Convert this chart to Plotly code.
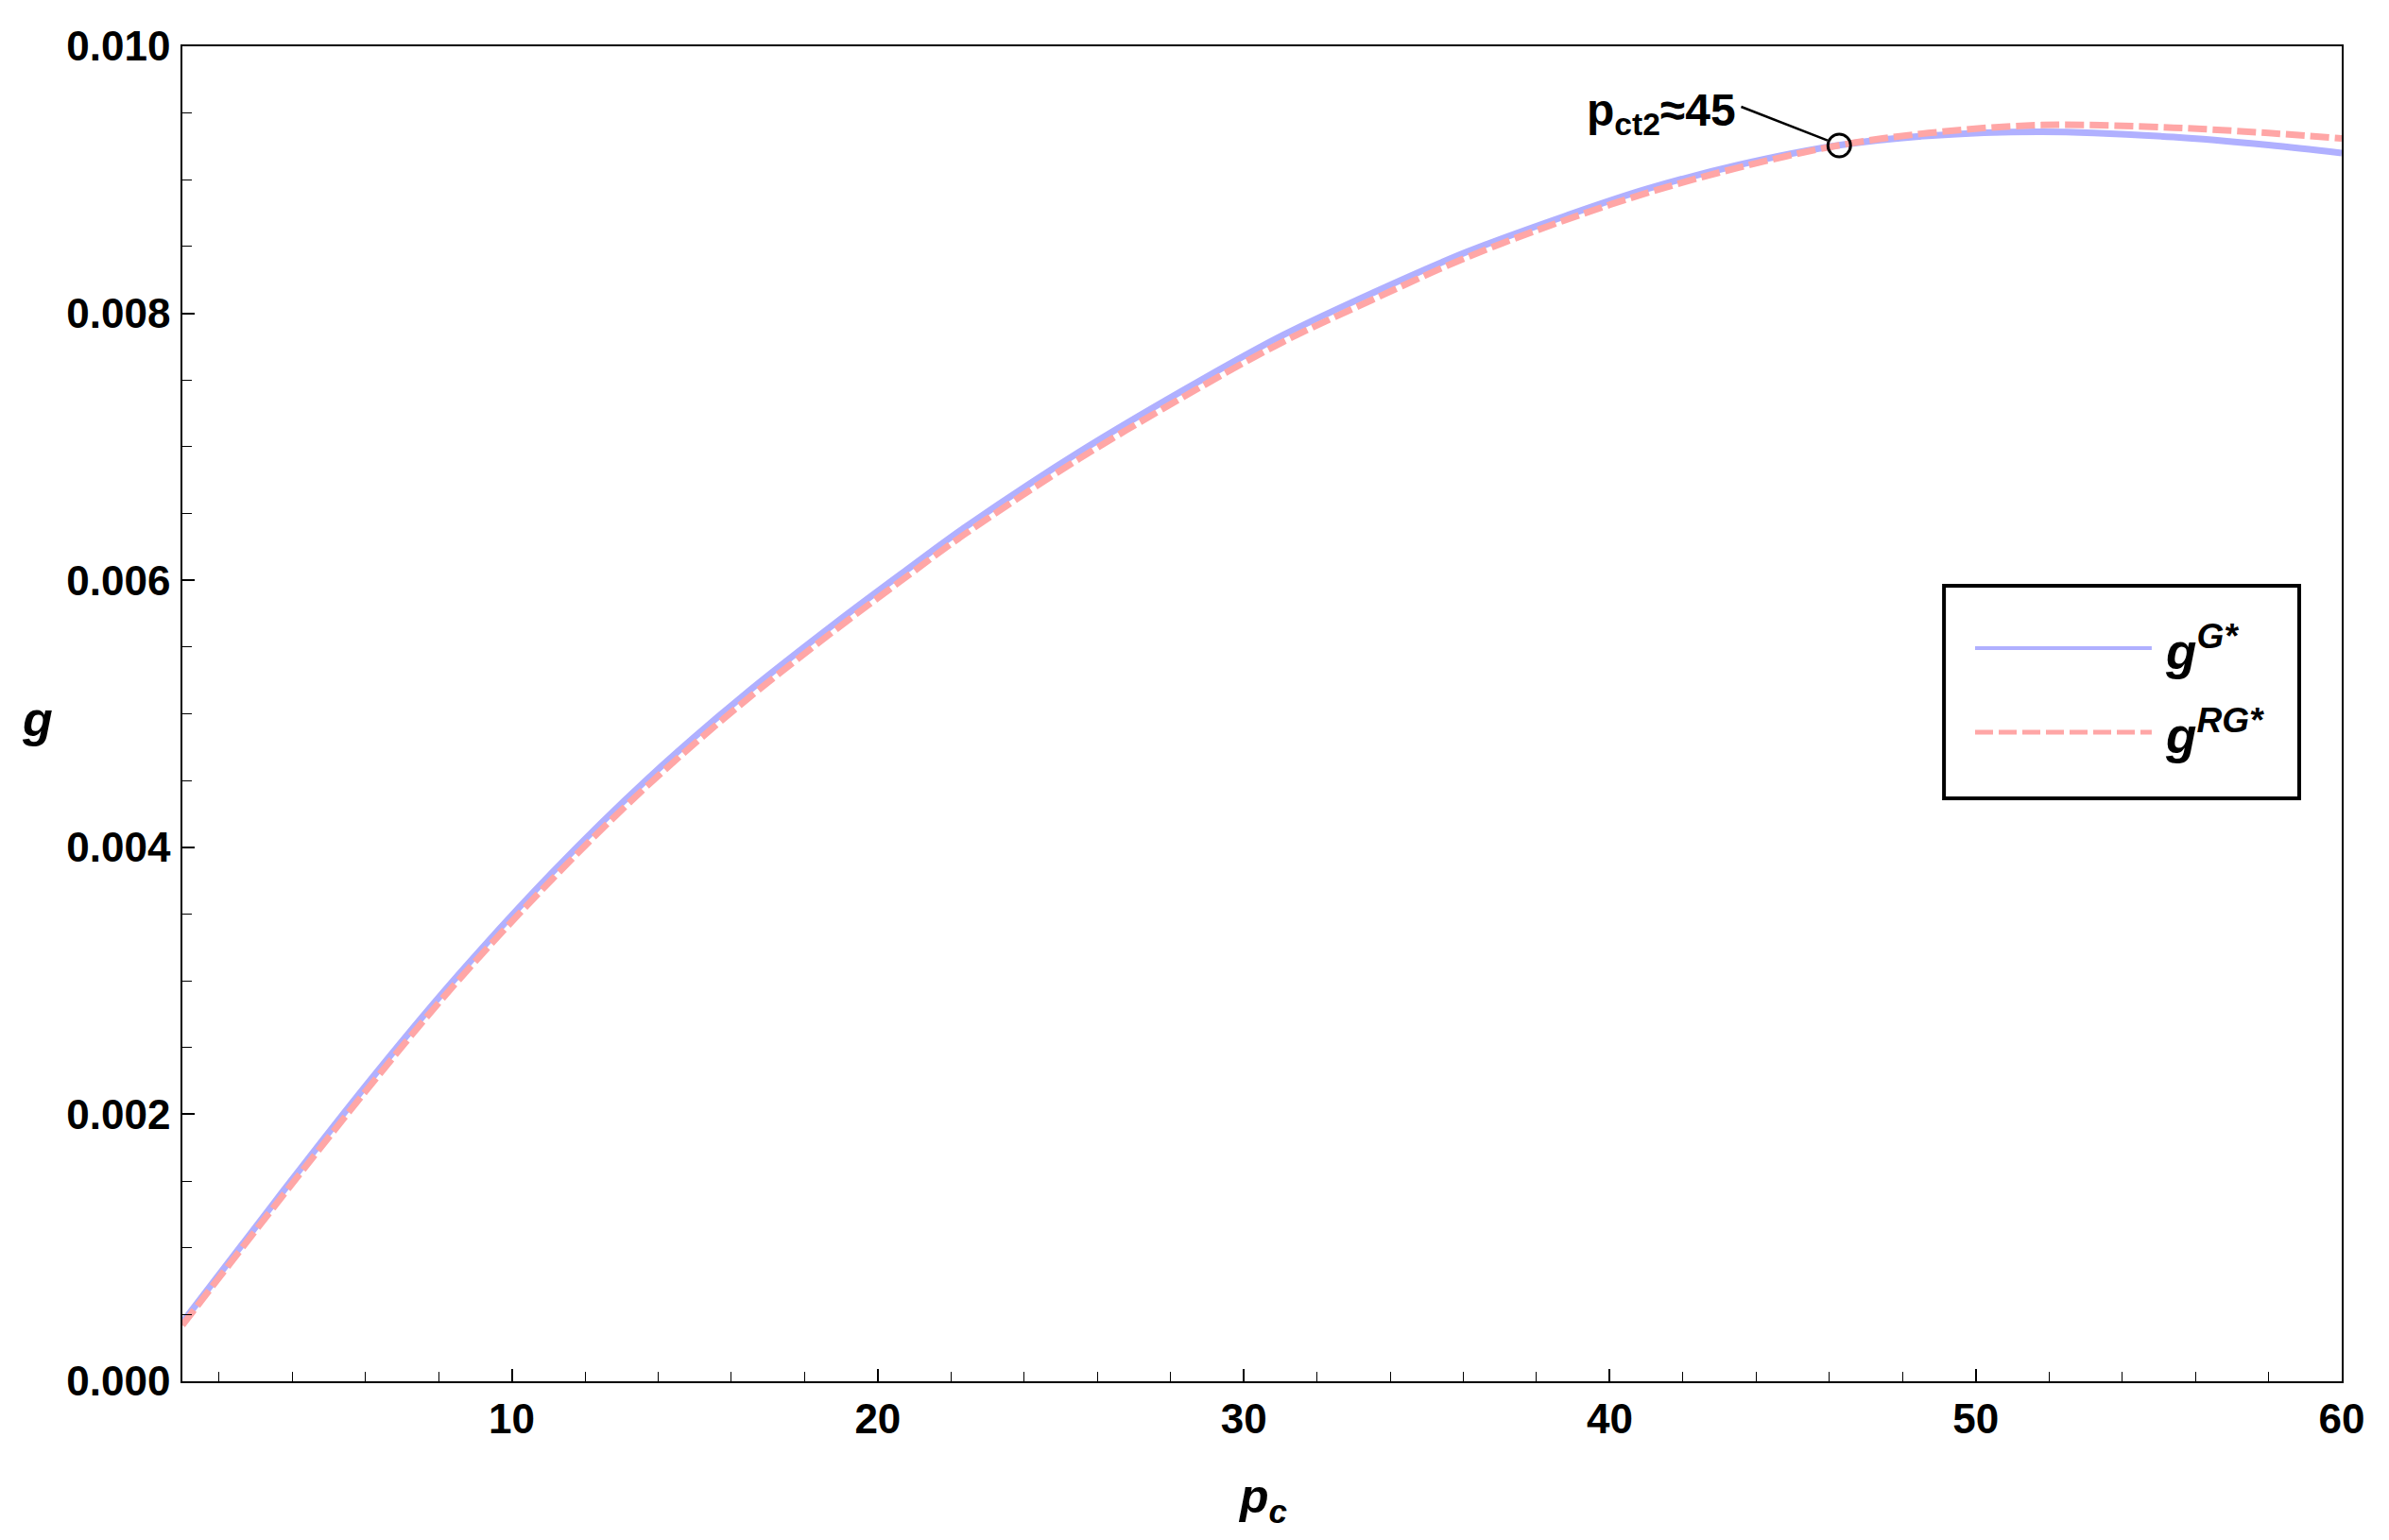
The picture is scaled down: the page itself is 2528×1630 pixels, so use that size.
import plotly.graph_objects as go

# values
pc_g = [1.0, 3.6, 6.0, 8.4, 11.1, 13.7, 16.3, 18.8, 20.8, 22.4, 25.5, 28.9, 31.1,
        33.5, 36.1, 38.8, 41.0, 43.5, 46.3, 48.7, 51.8, 55.4, 58.0, 60.0]
g_G = [0.00044, 0.00137, 0.00221, 0.00300, 0.00381, 0.00451, 0.00513, 0.00567, 0.00608,
       0.00640, 0.00696, 0.00751, 0.00784, 0.00815, 0.00846, 0.00873, 0.00893, 0.00911,
       0.00926, 0.00933, 0.00936, 0.00932, 0.00926, 0.00920]
g_RG = [0.00042, 0.00134, 0.00217, 0.00296, 0.00376, 0.00446, 0.00508, 0.00562, 0.00603,
        0.00635, 0.00691, 0.00746, 0.00779, 0.00810, 0.00842, 0.00870, 0.00890, 0.00909,
        0.00926, 0.00935, 0.00941, 0.00939, 0.00935, 0.00931]

p_ct2 = 46.27
g_ct2 = 0.009257

BLUE = '#B0B0FF'
RED = '#FFA6A6'
FONT = 'Liberation Sans, Arial, sans-serif'

fig = go.Figure()
fig.add_trace(go.Scatter(x=pc_g, y=g_G, mode='lines', name='g<sup>G*</sup>',
                         line=dict(color=BLUE, width=7, shape='spline', smoothing=1.0),
                         showlegend=False))
fig.add_trace(go.Scatter(x=pc_g, y=g_RG, mode='lines', name='g<sup>RG*</sup>',
                         line=dict(color=RED, width=7, dash='20px,6px', shape='spline', smoothing=1.0),
                         showlegend=False))
fig.add_trace(go.Scatter(x=[p_ct2], y=[g_ct2], mode='markers', showlegend=False,
                         marker=dict(symbol='circle-open', size=24, color='black',
                                     line=dict(width=3, color='black'))))

# pointer line to the marked point
fig.add_shape(type='line', xref='x', yref='y', x0=43.59, y0=0.009547, x1=45.95, y1=0.009295,
              line=dict(color='black', width=2.5))

fig.add_annotation(x=43.5, y=0.00950, xref='x', yref='y', xanchor='right', yanchor='middle',
                   showarrow=False, text='<b>p<sub>ct2</sub>≈45</b>',
                   font=dict(family=FONT, size=48, color='black'))

# legend drawn by hand (boxed, lines on the left, labels on the right)
fig.add_shape(type='rect', xref='paper', yref='paper', x0=0.8158, x1=0.9803, y0=0.4367, y1=0.5959,
              line=dict(color='black', width=4), fillcolor='white', layer='above')
fig.add_shape(type='line', xref='paper', yref='paper', x0=0.8302, x1=0.9120, y0=0.5492, y1=0.5492,
              line=dict(color=BLUE, width=4), layer='above')
fig.add_shape(type='line', xref='paper', yref='paper', x0=0.8302, x1=0.9120, y0=0.4862, y1=0.4862,
              line=dict(color=RED, width=5, dash='19px,6px'), layer='above')
fig.add_annotation(x=0.9175, y=0.5492, xref='paper', yref='paper', xanchor='left', yanchor='middle',
                   showarrow=False, text='<b><i>g<sup>G*</sup></i></b>',
                   font=dict(family=FONT, size=53, color='black'))
fig.add_annotation(x=0.9175, y=0.4862, xref='paper', yref='paper', xanchor='left', yanchor='middle',
                   showarrow=False, text='<b><i>g<sup>RG*</sup></i></b>',
                   font=dict(family=FONT, size=53, color='black'))

# axis titles
fig.add_annotation(x=-0.067, y=0.496, xref='paper', yref='paper', xanchor='center', yanchor='middle',
                   showarrow=False, text='<b><i>g</i></b>',
                   font=dict(family=FONT, size=52, color='black'))
fig.add_annotation(x=0.5, y=-0.089, xref='paper', yref='paper', xanchor='center', yanchor='middle',
                   showarrow=False, text='<b><i>p<sub>c</sub></i></b>',
                   font=dict(family=FONT, size=50, color='black'))

axis_common = dict(showline=True, linecolor='black', linewidth=1.5, mirror=True,
                   showgrid=False, zeroline=False, ticks='inside', tickcolor='black',
                   tickwidth=1.5, ticklen=13,
                   tickfont=dict(family=FONT, size=44, color='black', weight='bold'))

fig.update_xaxes(range=[1, 60], tick0=0, dtick=10, ticklabelstandoff=0,
                 minor=dict(ticks='inside', dtick=2, ticklen=10, tickcolor='black', tickwidth=1.2),
                 **axis_common)
fig.update_yaxes(range=[0, 0.010], tick0=0, dtick=0.002, tickformat='.3f', ticklabelstandoff=2,
                 minor=dict(ticks='inside', dtick=0.0005, ticklen=10, tickcolor='black', tickwidth=1.2),
                 **axis_common)

# page body adds an 8px offset, so the figure is 8px smaller with matching margins
fig.update_layout(width=2520, height=1622, plot_bgcolor='white', paper_bgcolor='white',
                  margin=dict(l=185, r=50, t=41, b=168), showlegend=False)

fig.write_html('out.html')
